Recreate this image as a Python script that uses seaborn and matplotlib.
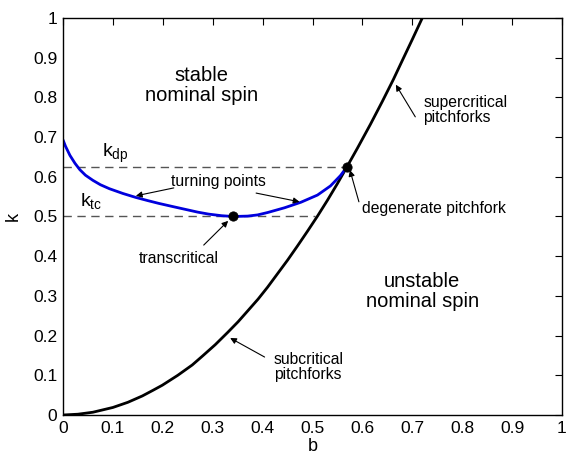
import matplotlib
matplotlib.use("Agg")
import matplotlib.pyplot as plt
import seaborn as sns
import pandas as pd

# Black boundary curve (pitchforks)
pf_b = [0, 0.03, 0.06, 0.1, 0.13, 0.159, 0.18, 0.199, 0.23, 0.259, 0.28, 0.305, 0.33, 0.351,
        0.37, 0.391, 0.41, 0.43, 0.45, 0.47, 0.49, 0.51, 0.53, 0.55, 0.569, 0.59, 0.616,
        0.64, 0.662, 0.68, 0.70, 0.72]
pf_k = [0, 0.002, 0.007, 0.019, 0.032, 0.048, 0.062, 0.075, 0.1, 0.126, 0.149, 0.177, 0.208, 0.235,
        0.262, 0.292, 0.322, 0.356, 0.39, 0.426, 0.463, 0.501, 0.541, 0.583, 0.625, 0.672, 0.732,
        0.79, 0.845, 0.893, 0.946, 1.0]

# Blue curve (turning points)
tp_b = [0, 0.005, 0.0139, 0.024, 0.0337, 0.045, 0.06, 0.075, 0.093, 0.12, 0.146, 0.17, 0.192,
        0.22, 0.245, 0.27, 0.292, 0.318, 0.341, 0.37, 0.39, 0.41, 0.444, 0.477, 0.51, 0.536,
        0.556, 0.569]
tp_k = [0.693, 0.677, 0.654, 0.634, 0.618, 0.604, 0.591, 0.58, 0.57, 0.558, 0.548, 0.54, 0.533,
        0.525, 0.518, 0.511, 0.506, 0.502, 0.5, 0.501, 0.504, 0.51, 0.522, 0.536, 0.554, 0.577,
        0.603, 0.625]

# special points
pts_b = [0.341, 0.569]
pts_k = [0.5, 0.625]

k_dp = 0.625
k_tc = 0.5
k_dp_end = 0.569
k_tc_end = 0.506

ticks = [0, 0.1, 0.2, 0.3, 0.4, 0.5, 0.6, 0.7, 0.8, 0.9, 1]
tick_labels = ["0", "0.1", "0.2", "0.3", "0.4", "0.5", "0.6", "0.7", "0.8", "0.9", "1"]

sns.set_style("white")
plt.rcParams['font.family'] = ['Liberation Sans', 'DejaVu Sans']
plt.rcParams['mathtext.fontset'] = 'custom'
plt.rcParams['mathtext.rm'] = 'Liberation Sans'
plt.rcParams['mathtext.it'] = 'Liberation Sans'
plt.rcParams['text.color'] = 'black'
plt.rcParams['axes.labelcolor'] = 'black'

fig = plt.figure(figsize=(5.68, 4.62), dpi=100)
ax = fig.add_axes([63/568, 1-415/462, 499/568, 397/462])

df_pf = pd.DataFrame({"b": pf_b, "k": pf_k})
df_tp = pd.DataFrame({"b": tp_b, "k": tp_k})

ax.plot([0, k_dp_end], [k_dp, k_dp], ls=(0, (6, 4)), color="#555555", lw=1.0)
ax.plot([0, k_tc_end], [k_tc, k_tc], ls=(0, (6, 4)), color="#555555", lw=1.0)

sns.lineplot(data=df_pf, x="b", y="k", sort=False, color="black", lw=2.0, ax=ax, estimator=None)
sns.lineplot(data=df_tp, x="b", y="k", sort=False, color="#0000dd", lw=2.0, ax=ax, estimator=None)
sns.scatterplot(x=pts_b, y=pts_k, color="black", s=45, ax=ax, zorder=5, edgecolor="black")

ax.set_xlim(0, 1)
ax.set_ylim(0, 1)
ax.set_xticks(ticks)
ax.set_xticklabels(tick_labels)
ax.set_yticks(ticks)
ax.set_yticklabels(tick_labels)
ax.tick_params(direction="in", top=True, right=True, length=5, width=0.8,
               labelsize=12.5, colors="black", pad=4)
for s in ax.spines.values():
    s.set_color("black")
    s.set_linewidth(1.0)
ax.set_xlabel("b", fontsize=13, labelpad=2)
ax.set_ylabel("k", fontsize=13, labelpad=8)

ax.text(0.278, 0.83, "stable\nnominal spin", ha="center", va="center", fontsize=14.5, linespacing=1.05)
ax.text(0.72, 0.312, "unstable\nnominal spin", ha="center", va="center", fontsize=14.5, linespacing=1.05)

ax.text(0.079, 0.66, r"$\mathregular{k_{dp}}$", ha="left", va="center", fontsize=14)
ax.text(0.034, 0.54, r"$\mathregular{k_{tc}}$", ha="left", va="center", fontsize=14)

ap = dict(arrowstyle="-|>", color="black", lw=0.8, mutation_scale=9, shrinkA=0, shrinkB=0)
fs = 11.3
ax.text(0.311, 0.587, "turning points", ha="center", va="center", fontsize=fs)
ax.annotate("", xy=(0.146, 0.552), xytext=(0.222, 0.572), arrowprops=ap)
ax.annotate("", xy=(0.474, 0.537), xytext=(0.387, 0.559), arrowprops=ap)

ax.text(0.232, 0.393, "transcritical", ha="center", va="center", fontsize=fs)
ax.annotate("", xy=(0.331, 0.489), xytext=(0.282, 0.428), arrowprops=ap)

ax.text(0.599, 0.521, "degenerate pitchfork", ha="left", va="center", fontsize=fs)
ax.annotate("", xy=(0.575, 0.617), xytext=(0.593, 0.537), arrowprops=ap)

ax.text(0.722, 0.768, "supercritical\npitchforks", ha="left", va="center", fontsize=fs, linespacing=1.0)
ax.annotate("", xy=(0.667, 0.832), xytext=(0.706, 0.751), arrowprops=ap)

ax.text(0.423, 0.121, "subcritical\npitchforks", ha="left", va="center", fontsize=fs, linespacing=1.0)
ax.annotate("", xy=(0.335, 0.194), xytext=(0.404, 0.146), arrowprops=ap)

fig.savefig("out.png", dpi=100)
